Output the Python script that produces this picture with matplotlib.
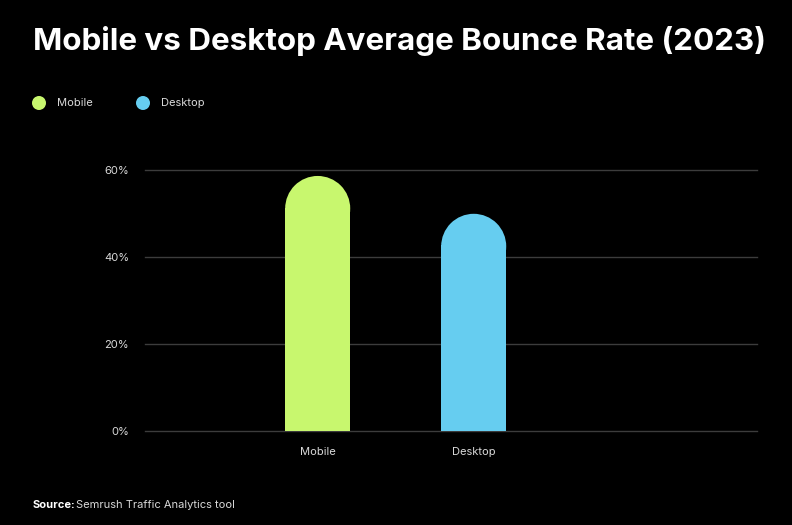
import matplotlib
matplotlib.use("Agg")
import matplotlib.pyplot as plt
from matplotlib.patches import Rectangle, Ellipse

# Data
categories = ["Mobile", "Desktop"]
bounce_rate = [58.7, 50.0]
bar_colors = ["#c8f76e", "#66cdf0"]
y_ticks = [0, 20, 40, 60]
y_tick_labels = ["0%", "20%", "40%", "60%"]

plt.rcParams['font.family'] = ['Inter', 'DejaVu Sans']

W, H = 792, 525
fig = plt.figure(figsize=(W / 100, H / 100), dpi=100, facecolor="black")
ax = fig.add_axes([145 / W, (H - 431.3) / H, (757 - 145) / W, (431.3 - 170.3) / H])
ax.set_facecolor("black")

ax.set_xlim(-1.107, 2.816)
ax.set_ylim(0, 60)

bar_w = 0.417
# radius of the rounded top in data units (half the bar width in pixels)
ax_w_px = (757 - 145)
ax_h_px = (431.3 - 170.3)
r_px = bar_w * ax_w_px / (2.816 + 1.107) / 2
ry = r_px * 60 / ax_h_px

for i, (v, c) in enumerate(zip(bounce_rate, bar_colors)):
    ax.add_patch(Rectangle((i - bar_w / 2, 0), bar_w, v - ry + 0.2, facecolor=c, edgecolor="none", zorder=3))
    ax.add_patch(Ellipse((i, v - ry), bar_w, 2 * ry, facecolor=c, edgecolor="none", zorder=3))

ax.set_yticks(y_ticks)
ax.set_yticklabels(y_tick_labels)
ax.set_xticks(range(len(categories)))
ax.set_xticklabels(categories)
ax.tick_params(axis="y", length=0, pad=11.5, labelsize=8, labelcolor="#d9d9d9")
ax.tick_params(axis="x", length=0, pad=11, labelsize=8, labelcolor="#d9d9d9")
ax.grid(axis="y", color="#3c3c3c", linewidth=1)
for gl in ax.get_ygridlines():
    gl.set_clip_on(False)
ax.set_axisbelow(True)
for s in ax.spines.values():
    s.set_visible(False)

# Title
fig.text(33 / W, 1 - 41 / H, "Mobile vs Desktop Average Bounce Rate (2023)", color="white",
         fontsize=22.6, fontweight="bold", va="center", ha="left")

# Legend
leg = fig.add_axes([0, 0, 1, 1], facecolor="none")
leg.set_xlim(0, W)
leg.set_ylim(H, 0)
leg.axis("off")
for lx, lab, c in [(39, "Mobile", bar_colors[0]), (143, "Desktop", bar_colors[1])]:
    leg.add_patch(Ellipse((lx, 103), 14, 14, facecolor=c, edgecolor="none"))
    leg.text(lx + 18, 103, lab, color="#d9d9d9", fontsize=8, va="center", ha="left")

# Source
leg.text(33, 505, "Source:", color="white", fontsize=8, fontweight="bold", va="center", ha="left")
leg.text(76, 505, "Semrush Traffic Analytics tool", color="#d9d9d9", fontsize=8, va="center", ha="left")

fig.savefig("out.png", dpi=100, facecolor="black")
